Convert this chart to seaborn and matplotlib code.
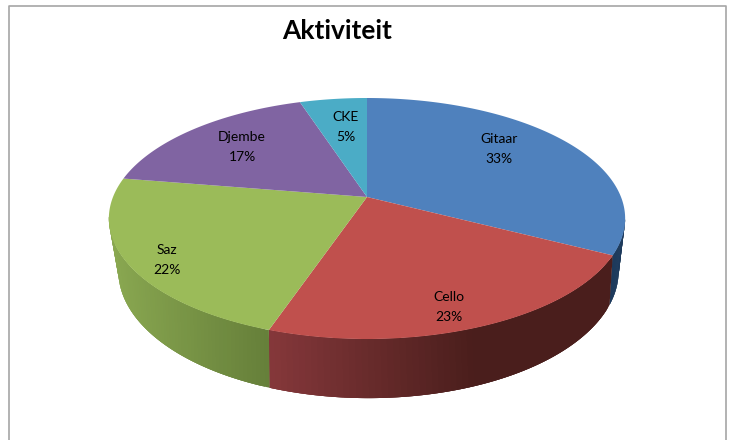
import numpy as np
import seaborn as sns
import matplotlib.pyplot as plt
from matplotlib.colors import to_rgb

categories = ['Gitaar', 'Cello', 'Saz', 'Djembe', 'CKE']
values = [32.6, 22.6, 22.4, 17.4, 5.0]
title = 'Aktiviteit'

colors = ['#4f81bd', '#c0504d', '#9bbb59', '#8064a2', '#4bacc6']
# wall shade at left and right side of each slice
wall_colors = {
    0: ('#1d3a5c', '#1d3a5c'),
    1: ('#86383b', '#4a1e1c'),
    2: ('#8aa851', '#66803a'),
}
label_pos = [(499, 149), (449, 307), (167, 260), (242, 147), (346, 127)]

sns.set_style('white')
plt.rcParams['font.family'] = ['Lato', 'DejaVu Sans']
palette = sns.color_palette(colors)

CX, CY = 367, 197


def top_face(t):
    # t is clockwise from 12 o'clock, radians. perspective squeeze on the far side
    u, v = np.sin(t), np.cos(t)
    w = 1 + 0.1785 * v
    return CX + 254 * u / w, CY - 116.67 * v / w


def bottom_face(t):
    u, v = np.sin(t), np.cos(t)
    w = 1 + 0.22 * v
    return CX + 1.5 + 244 * u / w, 243 - 121 * v / w


fig, ax = plt.subplots(figsize=(7.29, 4.40), dpi=100)
fig.subplots_adjust(0, 0, 1, 1)
ax.set_xlim(0, 729)
ax.set_ylim(440, 0)
ax.axis('off')

# chart frame, open at the bottom
ax.plot([9, 9, 726, 726], [440, 6, 6, 440], color='#a6a6a6', lw=1.2, zorder=1)

edges = np.radians(np.cumsum([0] + values) * 3.6)
visible = np.radians([100.5, 260.5])

# side walls, built from thin strips so the shade can change along the rim
for i in wall_colors:
    start = max(edges[i], visible[0])
    end = min(edges[i + 1], visible[1])
    if end <= start:
        continue
    left = np.array(to_rgb(wall_colors[i][0]))
    right = np.array(to_rgb(wall_colors[i][1]))
    ts = np.linspace(start, end, 70)
    x_all = top_face(ts)[0]
    x_lo, x_hi = x_all.min(), x_all.max()
    for a, b in zip(ts[:-1], ts[1:]):
        # strips overlap the next one, otherwise seams show up
        t = np.linspace(a, min(b + 2 * (b - a), end), 5)
        xt, yt = top_face(t)
        xb, yb = bottom_face(t)
        frac = (xt[0] - x_lo) / max(x_hi - x_lo, 1)
        if i == 1:
            frac = min(frac / 0.6, 1)
        c = left + (right - left) * frac
        ax.fill(np.r_[xt, xb[::-1]], np.r_[yt, yb[::-1]], color=c, lw=0, zorder=2)

# top of the pie
for i, name in enumerate(categories):
    t = np.linspace(edges[i], edges[i + 1], 120)
    x, y = top_face(t)
    ax.fill(np.r_[CX, x], np.r_[CY, y], color=palette[i], lw=0, zorder=3)
    lx, ly = label_pos[i]
    ax.text(lx, ly, f'{name}\n{values[i]:.0f}%', ha='center', va='center',
            fontsize=10, color='black', linespacing=1.72, zorder=4)

ax.text(337, 31, title, ha='center', va='center', fontsize=19,
        fontweight='bold', color='black', zorder=4)

fig.savefig('out.png', dpi=100)
